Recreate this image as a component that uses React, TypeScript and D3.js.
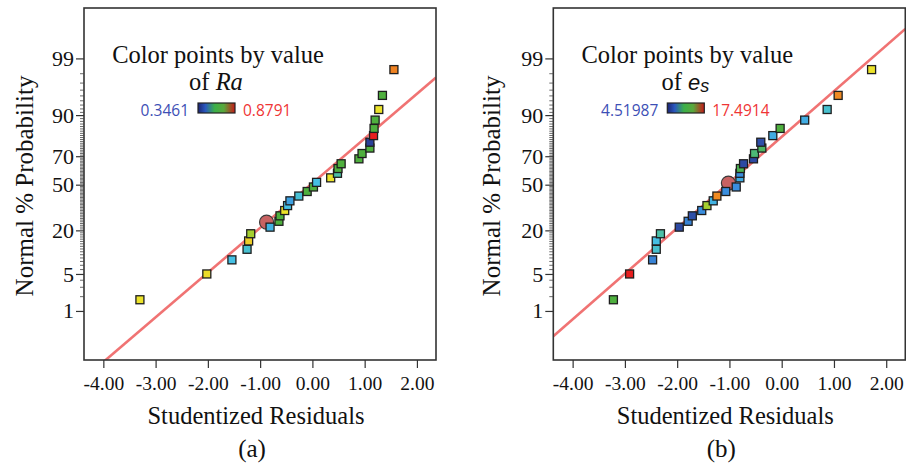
import { useEffect, useRef } from "react";
import * as d3 from "d3";

// normal probability (%) of each ranked residual
const probA = [1.7, 5, 8.3, 11.7, 15, 18.3, 21.7, 25, 28.3, 31.7, 35, 38.3, 41.7, 45, 48.3, 51.7, 55, 58.3, 61.7, 65, 68.3, 71.7, 75, 78.3, 81.7, 85, 88.3, 91.7, 95, 98.3];
const residA = [-3.3, -2.02, -1.54, -1.25, -1.22, -1.18, -0.81, -0.64, -0.62, -0.53, -0.475, -0.43, -0.26, -0.1, 0.02, 0.08, 0.35, 0.48, 0.49, 0.55, 0.89, 0.95, 1.1, 1.1, 1.17, 1.18, 1.2, 1.27, 1.34, 1.56];
const raValues = [0.73, 0.735, 0.506, 0.52, 0.746, 0.676, 0.495, 0.613, 0.613, 0.73, 0.506, 0.479, 0.517, 0.613, 0.613, 0.506, 0.73, 0.549, 0.613, 0.613, 0.613, 0.613, 0.613, 0.373, 0.879, 0.613, 0.613, 0.73, 0.613, 0.805];

const probB = [1.7, 5, 8.3, 11.7, 15, 18.3, 21.7, 25, 28.3, 31.7, 35, 38.3, 41.7, 45, 48.3, 55, 58.3, 61.7, 65, 68.3, 71.7, 75, 78.3, 81.7, 85, 88.3, 91.7, 95, 98.3];
const residB = [-3.22, -2.91, -2.47, -2.4, -2.4, -2.32, -1.96, -1.79, -1.71, -1.53, -1.43, -1.31, -1.24, -1.07, -0.87, -0.8, -0.8, -0.79, -0.73, -0.54, -0.52, -0.38, -0.4, -0.17, -0.03, 0.44, 0.87, 1.08, 1.72];
const esValues = [11.0, 17.49, 7.11, 8.8, 8.4, 9.45, 5.56, 7.11, 5.82, 7.37, 12.56, 8.15, 15.54, 7.37, 7.37, 8.0, 7.37, 10.7, 5.56, 5.56, 10.2, 10.5, 5.82, 8.0, 11.0, 8.0, 8.8, 15.54, 13.86];

// tick values
const xTicks = [-4, -3, -2, -1, 0, 1, 2];
const majorProb = [1, 5, 20, 50, 70, 90, 99];

// rainbow-ish colour ramp (fraction of the value range -> colour)
const colorStops = [0, 0.1, 0.22, 0.3, 0.38, 0.5, 0.62, 0.72, 0.85, 1];
const colorRange = ["#24308a", "#2f4fa8", "#3a8ede", "#45c0e4", "#4cc0a8", "#4eb03e", "#a6cf30", "#ece32a", "#f08a22", "#e81e1e"];
// the little legend bar reads blue -> green -> red
const barStops = [0, 0.2, 0.45, 0.7, 1];
const barColors = ["#1c2470", "#2a58c0", "#3cb048", "#5aa83c", "#c81818"];

// inverse normal CDF (Acklam)
function probit(p: number): number {
  const a = [-39.69683028665376, 220.9460984245205, -275.9285104469687, 138.357751867269, -30.66479806614716, 2.506628277459239];
  const b = [-54.47609879822406, 161.5858368580409, -155.6989798598866, 66.80131188771972, -13.28068155288572];
  const c = [-0.007784894002430293, -0.3223964580411365, -2.400758277161838, -2.549671348193349, 4.374664141464968, 2.938163982698783];
  const d = [0.007784695709041462, 0.3224671290700398, 2.445134137142996, 3.754408661907416];
  const plow = 0.02425;
  if (p < plow) {
    const q = Math.sqrt(-2 * Math.log(p));
    return (((((c[0] * q + c[1]) * q + c[2]) * q + c[3]) * q + c[4]) * q + c[5]) / ((((d[0] * q + d[1]) * q + d[2]) * q + d[3]) * q + 1);
  }
  if (p <= 1 - plow) {
    const q = p - 0.5;
    const r = q * q;
    return ((((((a[0] * r + a[1]) * r + a[2]) * r + a[3]) * r + a[4]) * r + a[5]) * q) / (((((b[0] * r + b[1]) * r + b[2]) * r + b[3]) * r + b[4]) * r + 1);
  }
  const q = Math.sqrt(-2 * Math.log(1 - p));
  return -(((((c[0] * q + c[1]) * q + c[2]) * q + c[3]) * q + c[4]) * q + c[5]) / ((((d[0] * q + d[1]) * q + d[2]) * q + d[3]) * q + 1);
}

const panels = [
  {
    id: "a", dx: 0, titleX: 33, resid: residA, prob: probA, values: raValues,
    vmin: 0.3461, vmax: 0.8791, minLabel: "0.3461", maxLabel: "0.8791", varName: "Ra",
    fitMid: -0.033, fitSlope: 0.8235, selR: -0.877, selP: 24.5, tag: "(a)",
  },
  {
    id: "b", dx: 469.3, titleX: 500, resid: residB, prob: probB, values: esValues,
    vmin: 4.51987, vmax: 17.4914, minLabel: "4.51987", maxLabel: "17.4914", varName: "es",
    fitMid: -1.048, fitSlope: 0.8404, selR: -1.02, selP: 51.2, tag: "(b)",
  },
];

const SERIF = "'Liberation Serif', 'Times New Roman', serif";

export default function App() {
  const ref = useRef<SVGSVGElement>(null);

  useEffect(() => {
    const svg = d3.select(ref.current);
    svg.selectAll("*").remove();
    const defs = svg.append("defs");

    panels.forEach((p) => {
      const left = 84 + p.dx;
      const top = 8;
      const w = 352;
      const h = 352;
      const x = d3.scaleLinear().domain([-4.37, 2.365]).range([left, left + w]);
      const y = d3.scaleLinear().domain([-3.23, 3.255]).range([top + h, top]);
      const color = d3
        .scaleLinear<string>()
        .domain(colorStops.map((t) => p.vmin + t * (p.vmax - p.vmin)))
        .range(colorRange)
        .clamp(true);

      defs
        .append("clipPath")
        .attr("id", "clip-" + p.id)
        .append("rect")
        .attr("x", left)
        .attr("y", top)
        .attr("width", w)
        .attr("height", h);

      const grad = defs
        .append("linearGradient")
        .attr("id", "grad-" + p.id)
        .attr("x1", "0%")
        .attr("x2", "100%");
      barStops.forEach((t, i) => {
        grad.append("stop").attr("offset", t * 100 + "%").attr("stop-color", barColors[i]);
      });

      const g = svg.append("g");

      // fitted normal line
      const [r0, r1] = x.domain();
      g.append("line")
        .attr("clip-path", "url(#clip-" + p.id + ")")
        .attr("x1", x(r0))
        .attr("y1", y(p.fitSlope * (r0 - p.fitMid)))
        .attr("x2", x(r1))
        .attr("y2", y(p.fitSlope * (r1 - p.fitMid)))
        .attr("stroke", "#f07373")
        .attr("stroke-width", 2.6);

      // selected point marker
      g.append("circle")
        .attr("cx", x(p.selR))
        .attr("cy", y(probit(p.selP / 100)))
        .attr("r", 7)
        .attr("fill", "#c86262")
        .attr("stroke", "#3a3a3a")
        .attr("stroke-width", 1.2);

      // residual points
      g.selectAll("rect.pt")
        .data(p.resid)
        .enter()
        .append("rect")
        .attr("class", "pt")
        .attr("x", (r) => x(r) - 4)
        .attr("y", (_, i) => y(probit(p.prob[i] / 100)) - 4)
        .attr("width", 8)
        .attr("height", 8)
        .attr("fill", (_, i) => color(p.values[i]))
        .attr("stroke", "#1e1e1e")
        .attr("stroke-width", 1.3);

      // frame
      g.append("rect")
        .attr("x", left)
        .attr("y", top)
        .attr("width", w)
        .attr("height", h)
        .attr("fill", "none")
        .attr("stroke", "#333")
        .attr("stroke-width", 1.6);

      // x axis
      const gx = g
        .append("g")
        .attr("transform", "translate(0," + (top + h) + ")")
        .call(
          d3
            .axisBottom(x)
            .tickValues(xTicks)
            .tickFormat((d) => (+d).toFixed(2))
            .tickSize(8)
            .tickPadding(8)
        );
      gx.select(".domain").remove();
      gx.selectAll("line").attr("stroke", "#333").attr("stroke-width", 1.2);
      gx.selectAll("text").attr("fill", "#111").style("font-family", SERIF).style("font-size", "19.5px");

      // y axis, minor ticks every percent
      const minor = d3.range(1, 100).filter((v) => majorProb.indexOf(v) < 0);
      const gm = g
        .append("g")
        .attr("transform", "translate(" + left + ",0)")
        .call(
          d3
            .axisLeft(y)
            .tickValues(minor.map((v) => probit(v / 100)))
            .tickFormat(() => "")
            .tickSize(4)
        );
      gm.select(".domain").remove();
      gm.selectAll("line").attr("stroke", "#444").attr("stroke-width", 0.8);

      const gy = g
        .append("g")
        .attr("transform", "translate(" + left + ",0)")
        .call(
          d3
            .axisLeft(y)
            .tickValues(majorProb.map((v) => probit(v / 100)))
            .tickFormat((_, i) => String(majorProb[i]))
            .tickSize(8)
            .tickPadding(2)
        );
      gy.select(".domain").remove();
      gy.selectAll("line").attr("stroke", "#333").attr("stroke-width", 1.2);
      gy.selectAll("text").attr("fill", "#111").style("font-family", SERIF).style("font-size", "22px");

      // legend
      g.append("text")
        .attr("x", left + 134)
        .attr("y", 63)
        .attr("text-anchor", "middle")
        .attr("fill", "#111")
        .style("font-family", SERIF)
        .style("font-size", "24.5px")
        .text("Color points by value");

      const of = g
        .append("text")
        .attr("x", left + 132)
        .attr("y", 90)
        .attr("text-anchor", "middle")
        .attr("fill", "#111")
        .style("font-family", SERIF)
        .style("font-size", "24.5px");
      of.append("tspan").text("of ");
      if (p.varName === "Ra") {
        of.append("tspan").style("font-style", "italic").text("Ra");
      } else {
        of.append("tspan")
          .style("font-style", "italic")
          .style("font-family", "'Liberation Sans', sans-serif")
          .style("font-size", "22px")
          .text("e");
        of.append("tspan")
          .style("font-style", "italic")
          .style("font-family", "'Liberation Sans', sans-serif")
          .style("font-size", "18px")
          .attr("dy", 2)
          .text("s");
      }

      g.append("rect")
        .attr("x", left + 114)
        .attr("y", 103)
        .attr("width", 37)
        .attr("height", 10)
        .attr("fill", "url(#grad-" + p.id + ")")
        .attr("stroke", "#222")
        .attr("stroke-width", 1.2);

      g.append("text")
        .attr("x", left + 105)
        .attr("y", 116)
        .attr("text-anchor", "end")
        .attr("fill", "#3d4fb5")
        .style("font-family", "'Open Sans', sans-serif")
        .style("font-size", "15.5px")
        .text(p.minLabel);

      g.append("text")
        .attr("x", left + 159)
        .attr("y", 116)
        .attr("fill", "#ef3535")
        .style("font-family", "'Open Sans', sans-serif")
        .style("font-size", "15.5px")
        .text(p.maxLabel);

      // axis titles
      g.append("text")
        .attr("transform", "translate(" + p.titleX + ",186)rotate(-90)")
        .attr("text-anchor", "middle")
        .attr("fill", "#111")
        .style("font-family", SERIF)
        .style("font-size", "25px")
        .text("Normal % Probability");

      g.append("text")
        .attr("x", left + 172)
        .attr("y", 424)
        .attr("text-anchor", "middle")
        .attr("fill", "#111")
        .style("font-family", SERIF)
        .style("font-size", "24.5px")
        .text("Studentized Residuals");

      g.append("text")
        .attr("x", left + 168)
        .attr("y", 457)
        .attr("text-anchor", "middle")
        .attr("fill", "#111")
        .style("font-family", SERIF)
        .style("font-size", "25px")
        .text(p.tag);
    });
  }, []);

  return (
    <svg
      ref={ref}
      width={906}
      height={466}
      style={{ position: "absolute", left: 0, top: 0, background: "#fff" }}
    />
  );
}
